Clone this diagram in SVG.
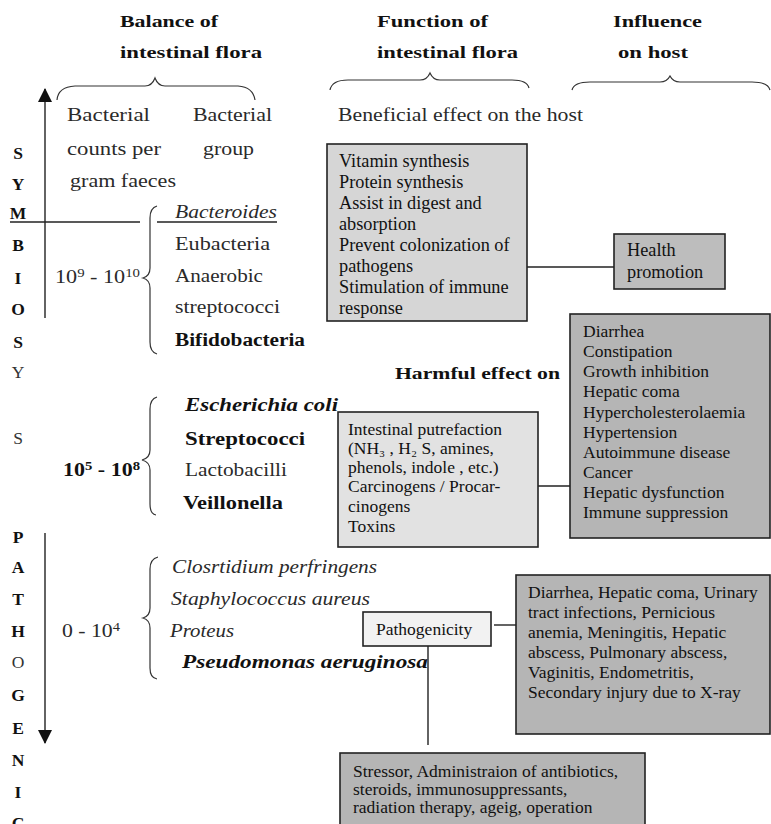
<svg xmlns="http://www.w3.org/2000/svg" width="771" height="824" viewBox="0 0 771 824">
<defs>
<style>
.bk{font-family:"Liberation Serif","Times New Roman",serif;font-size:18px;fill:#2a2a2a}
.hd{font-family:"Liberation Serif","Times New Roman",serif;font-size:17.5px;font-weight:bold;fill:#111}
.lt{font-family:"Liberation Serif","Times New Roman",serif;font-size:17.5px;font-weight:bold;fill:#111;text-anchor:middle}
.lr{font-weight:normal;fill:#333}
.b{font-weight:bold;fill:#111}
.i{font-style:italic}
.tm{font-family:"Liberation Serif","Times New Roman",serif;font-size:17.5px;fill:#111}
.t18{font-size:18.3px}
.ln{stroke:#222;stroke-width:1.4;fill:none}
.br{stroke:#333;stroke-width:1.2;fill:none}
.box{stroke:#222;stroke-width:1.6}
</style>
<marker id="ah" markerWidth="14" markerHeight="14" refX="13" refY="7" orient="auto" markerUnits="userSpaceOnUse">
<path d="M0,0 L14,7 L0,14 Z" fill="#111"/>
</marker>
</defs>
<rect width="771" height="824" fill="#fff"/>

<g id="headers">
<text class="hd" x="120" y="27" textLength="98" lengthAdjust="spacingAndGlyphs">Balance of</text>
<text class="hd" x="120" y="58" textLength="142" lengthAdjust="spacingAndGlyphs">intestinal flora</text>
<text class="hd" x="377" y="27" textLength="111" lengthAdjust="spacingAndGlyphs">Function of</text>
<text class="hd" x="377" y="58" textLength="141" lengthAdjust="spacingAndGlyphs">intestinal flora</text>
<text class="hd" x="613" y="27" textLength="89" lengthAdjust="spacingAndGlyphs">Influence</text>
<text class="hd" x="618" y="58" textLength="70" lengthAdjust="spacingAndGlyphs">on host</text>
<path class="br" d="M57,100 Q58,87 75,86 L145,86 Q152,86 155,78 Q158,86 165,86 L238,86 Q253,87 255,100"/>
<path class="br" d="M330,90 Q332,80 348,80 L420,80 Q427,80 430,73 Q433,80 440,80 L512,80 Q527,80 529,88"/>
<path class="br" d="M572,90 Q574,82 590,82 L660,82 Q667,82 670,76 Q673,82 680,82 L752,82 Q768,82 770,90"/>
</g>

<g id="axis">
<text class="lt" x="18" y="159">S</text>
<text class="lt" x="18" y="190">Y</text>
<text class="lt" x="18" y="219">M</text>
<text class="lt" x="18" y="251">B</text>
<text class="lt" x="18" y="284">I</text>
<text class="lt" x="18" y="315">O</text>
<text class="lt" x="18" y="348">S</text>
<text class="lt lr" x="18" y="378">Y</text>
<text class="lt lr" x="18" y="444">S</text>
<text class="lt" x="18" y="543">P</text>
<text class="lt" x="18" y="573">A</text>
<text class="lt" x="18" y="605">T</text>
<text class="lt" x="18" y="637">H</text>
<text class="lt lr" x="18" y="668">O</text>
<text class="lt" x="18" y="701">G</text>
<text class="lt" x="18" y="734">E</text>
<text class="lt" x="18" y="766">N</text>
<text class="lt" x="18" y="798">I</text>
<text class="lt" x="18" y="829">C</text>
</g>

<g id="connectors">
<line class="ln" x1="45" y1="318" x2="45" y2="89" marker-end="url(#ah)"/>
<line class="ln" x1="45" y1="533" x2="45" y2="743" marker-end="url(#ah)"/>
<line class="ln" x1="10" y1="222" x2="140" y2="222"/>
<line class="ln" x1="157" y1="222" x2="277" y2="222" stroke-width="1"/>
<line class="ln" x1="527" y1="267" x2="614" y2="267"/>
<line class="ln" x1="538" y1="486" x2="578" y2="486"/>
<line class="ln" x1="494" y1="625" x2="516" y2="625"/>
<line class="ln" x1="428" y1="646" x2="428" y2="745"/>
</g>

<g id="columnHeads">
<text class="bk" x="67" y="121" textLength="83" lengthAdjust="spacingAndGlyphs">Bacterial</text>
<text class="bk" x="193" y="121" textLength="79" lengthAdjust="spacingAndGlyphs">Bacterial</text>
<text class="bk" x="67" y="155" textLength="94" lengthAdjust="spacingAndGlyphs">counts per</text>
<text class="bk" x="203" y="155" textLength="51" lengthAdjust="spacingAndGlyphs">group</text>
<text class="bk" x="70" y="187" textLength="106" lengthAdjust="spacingAndGlyphs">gram faeces</text>
<text class="bk" x="338" y="121" textLength="245" lengthAdjust="spacingAndGlyphs">Beneficial effect on the host</text>
</g>

<g id="group1">
<text class="bk" x="55" y="283" textLength="85" lengthAdjust="spacingAndGlyphs">10<tspan font-size="12" dy="-6">9</tspan><tspan dy="6"> - 10</tspan><tspan font-size="12" dy="-6">10</tspan></text>
<path class="br" d="M157,206 Q150,208 150,218 L150,268 Q150,276 143,278 Q150,280 150,288 L150,342 Q150,352 157,354"/>
<text class="bk i" x="175" y="218" textLength="102" lengthAdjust="spacingAndGlyphs">Bacteroides</text>
<text class="bk" x="175" y="250" textLength="95" lengthAdjust="spacingAndGlyphs">Eubacteria</text>
<text class="bk" x="175" y="282" textLength="88" lengthAdjust="spacingAndGlyphs">Anaerobic</text>
<text class="bk" x="175" y="313" textLength="105" lengthAdjust="spacingAndGlyphs">streptococci</text>
<text class="bk b" x="175" y="346" textLength="130" lengthAdjust="spacingAndGlyphs">Bifidobacteria</text>
</g>

<g id="group2">
<text class="bk b" x="63" y="476" textLength="77" lengthAdjust="spacingAndGlyphs">10<tspan font-size="12" dy="-6">5</tspan><tspan dy="6"> - 10</tspan><tspan font-size="12" dy="-6">8</tspan></text>
<path class="br" d="M157,397 Q150,399 150,409 L150,450 Q150,458 142,460 Q150,462 150,470 L150,504 Q150,514 156,515"/>
<text class="bk b i" x="185" y="411" textLength="153" lengthAdjust="spacingAndGlyphs">Escherichia coli</text>
<text class="bk b" x="185" y="445" textLength="120" lengthAdjust="spacingAndGlyphs">Streptococci</text>
<text class="bk" x="185" y="476" textLength="102" lengthAdjust="spacingAndGlyphs">Lactobacilli</text>
<text class="bk b" x="183" y="509" textLength="100" lengthAdjust="spacingAndGlyphs">Veillonella</text>
</g>

<g id="group3">
<text class="bk" x="62" y="637" textLength="58" lengthAdjust="spacingAndGlyphs">0 - 10<tspan font-size="12" dy="-6">4</tspan></text>
<path class="br" d="M158,557 Q150,559 150,569 L150,608 Q150,616 143,618 Q150,620 150,628 L150,668 Q150,678 157,679"/>
<text class="bk i" x="172" y="573" textLength="205" lengthAdjust="spacingAndGlyphs">Closrtidium perfringens</text>
<text class="bk i" x="171" y="605" textLength="199" lengthAdjust="spacingAndGlyphs">Staphylococcus aureus</text>
<text class="bk i" x="170" y="637" textLength="64" lengthAdjust="spacingAndGlyphs">Proteus</text>
<text class="bk b i" x="182" y="668" textLength="246" lengthAdjust="spacingAndGlyphs">Pseudomonas aeruginosa</text>
</g>

<g id="beneficialBox">
<rect class="box" x="327" y="144" width="200" height="177" fill="#d6d6d6"/>
<text class="tm t18" x="339" y="167">Vitamin synthesis</text>
<text class="tm t18" x="339" y="188">Protein synthesis</text>
<text class="tm t18" x="339" y="209">Assist in digest and</text>
<text class="tm t18" x="339" y="230">absorption</text>
<text class="tm t18" x="339" y="251">Prevent colonization of</text>
<text class="tm t18" x="339" y="272">pathogens</text>
<text class="tm t18" x="339" y="293">Stimulation of immune</text>
<text class="tm t18" x="339" y="314">response</text>
</g>

<g id="healthBox">
<rect class="box" x="614" y="234" width="111" height="55" fill="#bdbdbd"/>
<text class="tm t18" x="627" y="256">Health</text>
<text class="tm t18" x="627" y="278">promotion</text>
</g>

<g id="harmfulLabel">
<text class="hd" x="395" y="379" textLength="165" lengthAdjust="spacingAndGlyphs">Harmful effect on</text>
</g>

<g id="harmfulBox">
<rect class="box" x="338" y="412" width="200" height="135" fill="#e2e2e2"/>
<text class="tm" x="348" y="435">Intestinal putrefaction</text>
<text class="tm" x="348" y="454">(NH₃ , H₂ S, amines,</text>
<text class="tm" x="348" y="473">phenols, indole , etc.)</text>
<text class="tm" x="348" y="492">Carcinogens / Procar-</text>
<text class="tm" x="348" y="512">cinogens</text>
<text class="tm" x="348" y="532">Toxins</text>
</g>

<g id="diseaseBox">
<rect class="box" x="570" y="314" width="200" height="224" fill="#b5b5b5"/>
<text class="tm" x="583" y="337">Diarrhea</text>
<text class="tm" x="583" y="357">Constipation</text>
<text class="tm" x="583" y="377">Growth inhibition</text>
<text class="tm" x="583" y="397">Hepatic coma</text>
<text class="tm" x="583" y="418">Hypercholesterolaemia</text>
<text class="tm" x="583" y="438">Hypertension</text>
<text class="tm" x="583" y="458">Autoimmune disease</text>
<text class="tm" x="583" y="478">Cancer</text>
<text class="tm" x="583" y="498">Hepatic dysfunction</text>
<text class="tm" x="583" y="518">Immune suppression</text>
</g>

<g id="pathogenicityBox">
<rect class="box" x="363" y="612" width="128" height="34" fill="#f2f2f2"/>
<text class="tm" x="376" y="635">Pathogenicity</text>
</g>

<g id="infectionBox">
<rect class="box" x="516" y="575" width="254" height="159" fill="#b5b5b5"/>
<text class="tm" x="528" y="598">Diarrhea, Hepatic coma, Urinary</text>
<text class="tm" x="528" y="618">tract infections, Pernicious</text>
<text class="tm" x="528" y="638">anemia, Meningitis, Hepatic</text>
<text class="tm" x="528" y="658">abscess, Pulmonary abscess,</text>
<text class="tm" x="528" y="678">Vaginitis, Endometritis,</text>
<text class="tm" x="528" y="698">Secondary injury due to X-ray</text>
</g>

<g id="stressorBox">
<rect class="box" x="340" y="753" width="305" height="80" fill="#b5b5b5"/>
<text class="tm" x="353" y="777">Stressor, Administraion of antibiotics,</text>
<text class="tm" x="353" y="795">steroids, immunosuppressants,</text>
<text class="tm" x="353" y="813">radiation therapy, ageig, operation</text>
</g>
</svg>
